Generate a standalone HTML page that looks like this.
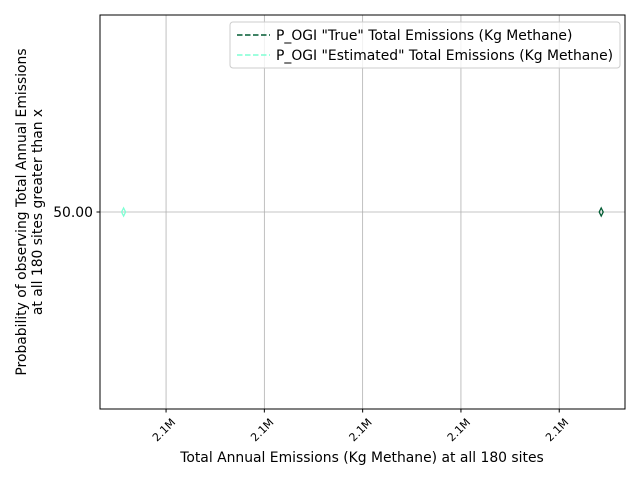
<!DOCTYPE html>
<html><head><meta charset="utf-8"><style>
body{margin:0;background:#fff;font-family:"DejaVu Sans","Liberation Sans",sans-serif}
</style></head><body>
<svg id="chart" width="640" height="480" xmlns="http://www.w3.org/2000/svg" font-family="DejaVu Sans, Liberation Sans, sans-serif">
<g id="grid"></g>
<g id="marks"></g>
<rect x="100" y="15" width="525" height="394" fill="none" stroke="#000" stroke-width="1"/>
<g id="ticks"></g>
<text x="362" y="462" font-size="13.9" text-anchor="middle">Total Annual Emissions (Kg Methane) at all 180 sites</text>
<text transform="translate(26,212) rotate(-90)" font-size="13.9" text-anchor="middle"><tspan x="0" y="0">Probability of observing Total Annual Emissions</tspan><tspan x="0" y="16">at all 180 sites greater than x</tspan></text>
<g>
<rect x="230" y="22" width="390" height="46" rx="3" fill="#fff" fill-opacity="0.8" stroke="#ccc"/>
<line x1="237" y1="35" x2="270" y2="35" stroke="#005a32" stroke-width="1.5" stroke-dasharray="5.5,2.5"/>
<text x="276" y="40" font-size="13.9">P_OGI "True" Total Emissions (Kg Methane)</text>
<line x1="237" y1="55" x2="270" y2="55" stroke="#7fffd4" stroke-width="1.5" stroke-dasharray="5.5,2.5"/>
<text x="276" y="60" font-size="13.9">P_OGI "Estimated" Total Emissions (Kg Methane)</text>
</g>
</svg>
<script>
const xTickValues=[2100000,2101000,2102000,2103000,2104000];
const xTickLabels=["2.1M","2.1M","2.1M","2.1M","2.1M"];
const yTickValues=[50];
const yTickLabels=["50.00"];
const seriesNames=["true","estimated"];
const seriesColors=["#005a32","#7fffd4"];
const seriesX=[2104427,2099568];
const seriesY=[50,50];
const X0=100,X1=625,Y0=409,Y1=15;
const xmin=2099328,xmax=2104669,ymin=0,ymax=100;
function sx(v){return X0+(v-xmin)/(xmax-xmin)*(X1-X0);}
function sy(v){return Y0-(v-ymin)/(ymax-ymin)*(Y0-Y1);}
const NS="http://www.w3.org/2000/svg";
function mk(t,a,p){const e=document.createElementNS(NS,t);for(const k in a)e.setAttribute(k,a[k]);p.appendChild(e);return e;}
const grid=document.getElementById('grid'),ticks=document.getElementById('ticks'),marks=document.getElementById('marks');
xTickValues.forEach((v,i)=>{const x=sx(v);
const g=mk('line',{x1:x,x2:x,y1:Y1,y2:Y0,stroke:'#b0b0b0','stroke-width':0.8},grid);


const t=mk('line',{x1:x,x2:x,y1:Y0,y2:Y0+3.5,stroke:'#000'},ticks);


const l=mk('text',{x:0,y:0,'font-size':11,'text-anchor':'end',transform:`translate(${x+10},${Y0+14}) rotate(-45)`},ticks);
l.textContent=xTickLabels[i];

});
yTickValues.forEach((v,i)=>{const y=sy(v);
const g=mk('line',{x1:X0,x2:X1,y1:y,y2:y,stroke:'#b0b0b0','stroke-width':0.8},grid);


const t=mk('line',{x1:X0-3.5,x2:X0,y1:y,y2:y,stroke:'#000'},ticks);


const l=mk('text',{x:X0-7,y:y+5,'font-size':13.9,'text-anchor':'end'},ticks);
l.textContent=yTickLabels[i];

});
seriesX.forEach((v,i)=>{const x=sx(v),y=sy(seriesY[i]);
const p=mk('path',{d:`M${x},${y-4} L${x+2},${y} L${x},${y+4} L${x-2},${y} Z`,fill:'none',stroke:seriesColors[i],'stroke-width':1.3},marks);

});
</script>
</body></html>
